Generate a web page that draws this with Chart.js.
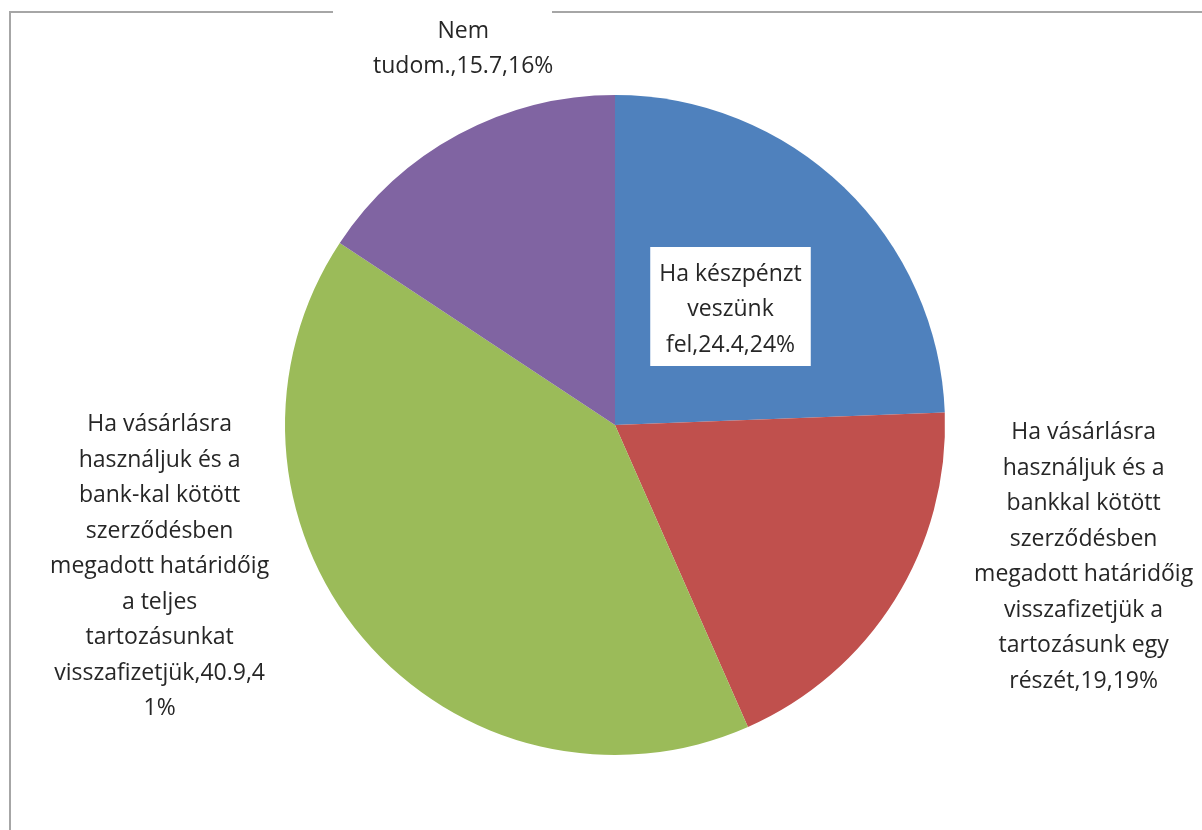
<!DOCTYPE html>
<html>
<head>
<meta charset="utf-8">
<script src="https://cdn.jsdelivr.net/npm/chart.js@4/dist/chart.umd.min.js"></script>
<style>
  html, body { margin: 0; padding: 0; background: #fff; }
  #wrap { width: 1202px; height: 830px; position: relative; }
</style>
</head>
<body>
<div id="wrap"><canvas id="pieChart" width="1202" height="830"></canvas></div>
<script>
// Chart data
const categories = [
    ['Ha készpénzt', 'veszünk', 'fel'],
    ['Ha vásárlásra', 'használjuk és a', 'bankkal kötött', 'szerződésben', 'megadott határidőig', 'visszafizetjük a', 'tartozásunk egy', 'részét'],
    ['Ha vásárlásra', 'használjuk és a', 'bank-kal kötött', 'szerződésben', 'megadott határidőig', 'a teljes', 'tartozásunkat', 'visszafizetjük'],
    ['Nem', 'tudom.']
];
const values = [24.4, 19, 40.9, 15.7];
const percents = ['24%', '19%', '41%', '16%'];
const colors = ['#4F81BD', '#C0504D', '#9BBB59', '#8064A2'];

// label placement relative to pie centre, in units of the radius
const labelOffsets = [
    { dx: 0.35, dy: -0.35, boxed: true },
    { dx: 1.42, dy: 0.40 },
    { dx: -1.38, dy: 0.43 },
    { dx: -0.46, dy: -1.14 }
];

const FONT = '23px "Open Sans", Lato, sans-serif';
const LINE_H = 35.5;

// build the text lines of a data label, wrapping like the original
function labelLines(i) {
    const lines = categories[i].slice();
    const last = lines.pop() + ',' + values[i] + ',' + percents[i];
    if (i === 2) {
        lines.push('visszafizetjük,40.9,4');
        lines.push('1%');
    } else if (i === 3) {
        lines.push('tudom.,15.7,16%');
    } else {
        lines.push(last);
    }
    return lines;
}

const labelsPlugin = {
    id: 'pieLabels',
    afterDatasetsDraw(chart) {
        const ctx = chart.ctx;
        const arcs = chart.getDatasetMeta(0).data;
        ctx.save();
        ctx.font = FONT;
        ctx.textAlign = 'center';
        ctx.textBaseline = 'middle';
        arcs.forEach(function(arc, i) {
            const r = arc.outerRadius;
            const cx = arc.x + labelOffsets[i].dx * r;
            const cy = arc.y + labelOffsets[i].dy * r;
            const lines = labelLines(i);
            const top = cy - (lines.length - 1) * LINE_H / 2;
            if (labelOffsets[i].boxed) {
                let w = 0;
                lines.forEach(function(l) { w = Math.max(w, ctx.measureText(l).width); });
                ctx.fillStyle = '#ffffff';
                ctx.fillRect(cx - w / 2 - 9, top - 27, w + 18, (lines.length - 1) * LINE_H + 48);
            }
            ctx.fillStyle = '#262626';
            lines.forEach(function(l, k) {
                ctx.fillText(l, cx, top + k * LINE_H);
            });
        });
        ctx.restore();
    }
};

// chart frame, cut at the top where the title sits
const framePlugin = {
    id: 'frame',
    beforeDraw(chart) {
        const ctx = chart.ctx;
        ctx.save();
        ctx.strokeStyle = '#a6a6a6';
        ctx.lineWidth = 2;
        ctx.beginPath();
        ctx.moveTo(10, 830);
        ctx.lineTo(10, 12);
        ctx.lineTo(333, 12);
        ctx.moveTo(552, 12);
        ctx.lineTo(1202, 12);
        ctx.stroke();
        ctx.restore();
    }
};

const pieCtx = document.getElementById('pieChart').getContext('2d');
const pieChart = new Chart(pieCtx, {
    type: 'pie',
    data: {
        labels: categories.map(function(c) { return c.join(' '); }),
        datasets: [{
            data: values,
            backgroundColor: colors,
            borderWidth: 0
        }]
    },
    options: {
        responsive: false,
        animation: false,
        layout: {
            padding: { left: 285, right: 257, top: 95, bottom: 75 }
        },
        plugins: {
            legend: { display: false },
            tooltip: { enabled: false }
        }
    },
    plugins: [framePlugin, labelsPlugin]
});
</script>
</body>
</html>
